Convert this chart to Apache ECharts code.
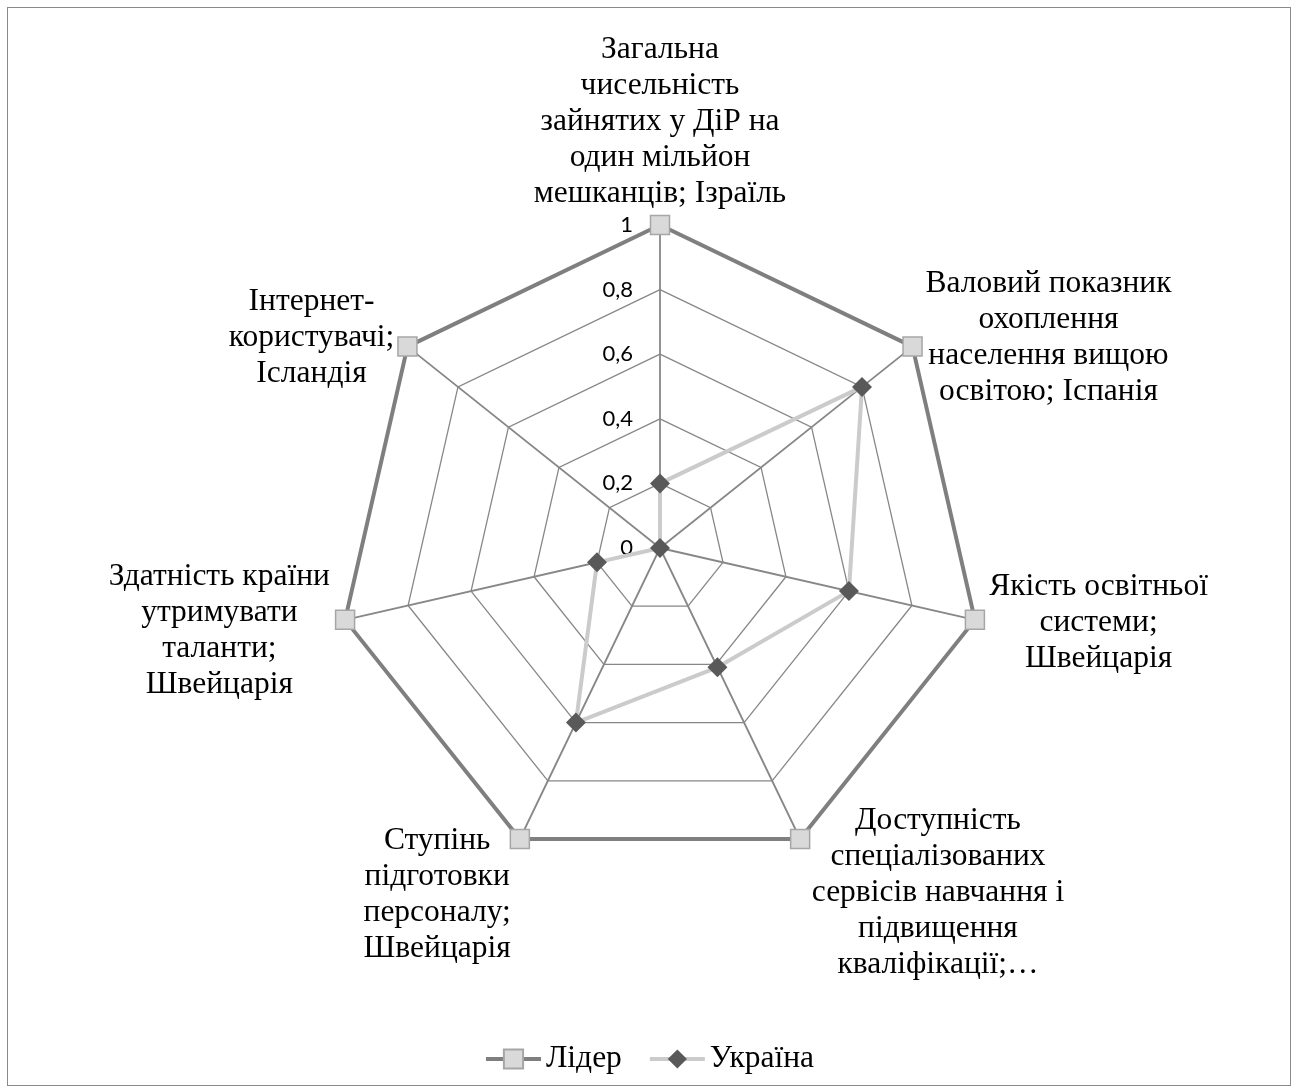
<!DOCTYPE html>
<html>
<head>
<meta charset="utf-8">
<script src="https://cdn.jsdelivr.net/npm/echarts@6/dist/echarts.min.js"></script>
<style>
  html, body { margin: 0; padding: 0; background: #fff; }
  #main { width: 1298px; height: 1092px; }
  #frame { position: absolute; left: 7px; top: 7px; width: 1282px; height: 1077px; border: 1.5px solid #8a8a8a; pointer-events: none; }
</style>
</head>
<body>
<div id="main"></div>
<div id="frame"></div>
<script>
// axis names, clockwise from the top (Excel-style wrapped text)
const axisNames = [
  "Загальна\nчисельність\nзайнятих у ДіР на\nодин мільйон\nмешканців; Ізраїль",
  "Валовий показник\nохоплення\nнаселення вищою\nосвітою; Іспанія",
  "Якість освітньої\nсистеми;\nШвейцарія",
  "Доступність\nспеціалізованих\nсервісів навчання і\nпідвищення\nкваліфікації;…",
  "Ступінь\nпідготовки\nперсоналу;\nШвейцарія",
  "Здатність країни\nутримувати\nталанти;\nШвейцарія",
  "Інтернет-\nкористувачі;\nІсландія"
];
const seriesNames = ["Лідер", "Україна"];
const leaderValues = [1, 1, 1, 1, 1, 1, 1];
const ukraineValues = [0.2, 0.8, 0.6, 0.41, 0.6, 0.2, 0];

// label layout tweaks (same order as axisNames)
const nameBoxWidths = [260, 250, 222, 260, 155, 232, 170];
const nameGaps = [13, 14, 13, 18, 12, 10, 14];
const nameTopPads = [0, 0, 0, 76, 90, 18, 0];

// echarts lays radar axes out counter-clockwise, so flip the order
const order = [0, 6, 5, 4, 3, 2, 1];

const serif = "'Liberation Serif', 'Times New Roman', serif";

var rich = {};
nameBoxWidths.forEach(function (w, i) {
  rich["n" + i] = { width: w, align: "center", fontFamily: serif, fontSize: 31.5, lineHeight: 36, color: "#000" };
});

var indicators = order.map(function (i) {
  var ind = { name: axisNames[i], min: 0, max: 1, nameGap: nameGaps[i] };
  if (nameTopPads[i]) ind.nameTextStyle = { padding: [nameTopPads[i], 0, 0, 0] };
  if (i === 0) ind.axisLabel = { show: true };
  return ind;
});

var myChart = echarts.init(document.getElementById("main"));

var option = {
  animation: false,
  backgroundColor: "#fff",
  grid: { show: false, left: 0, top: 0, width: 1, height: 1 },
  xAxis: { show: false, type: "category", data: [] },
  yAxis: { show: false, type: "value" },
  legend: {
    data: seriesNames,
    left: "center",
    top: 1038,
    itemWidth: 55,
    itemHeight: 24,
    itemGap: 26,
    lineStyle: { width: 4 },
    textStyle: { fontFamily: serif, fontSize: 31.5, color: "#000" }
  },
  radar: {
    center: [660, 548],
    radius: 323,
    startAngle: 90,
    shape: "polygon",
    splitNumber: 5,
    indicator: indicators,
    axisName: {
      color: "#000",
      fontFamily: serif,
      fontSize: 31.5,
      lineHeight: 36,
      rich: rich,
      formatter: function (name) {
        var i = axisNames.indexOf(name);
        return name.split("\n").map(function (s) { return "{n" + i + "|" + s + "}"; }).join("\n");
      }
    },
    axisNameGap: 14,
    axisLine: { lineStyle: { color: "#878787", width: 1.8 } },
    splitLine: { lineStyle: { color: "#878787", width: 1.3 } },
    splitArea: { show: false },
    axisTick: { show: false },
    axisLabel: {
      show: false,
      margin: 27,
      color: "#000",
      fontFamily: "Lato, 'Open Sans', sans-serif",
      fontSize: 22,
      formatter: function (v) { return String(v).replace(".", ","); }
    }
  },
  series: [
    // legend icons (line + marker)
    {
      name: seriesNames[0], type: "line", data: [], symbol: "rect",
      lineStyle: { color: "#7f7f7f", width: 4 },
      itemStyle: { color: "#d9d9d9", borderColor: "#a6a6a6", borderWidth: 1.5 }
    },
    {
      name: seriesNames[1], type: "line", data: [], symbol: "diamond",
      lineStyle: { color: "#cbcbcb", width: 4 },
      itemStyle: { color: "#595959", borderColor: "#595959", borderWidth: 0 }
    },
    {
      name: seriesNames[0],
      type: "radar",
      symbol: "rect",
      symbolSize: 19,
      lineStyle: { color: "#7f7f7f", width: 4 },
      itemStyle: { color: "#d9d9d9", borderColor: "#a6a6a6", borderWidth: 1.5 },
      data: [{ value: order.map(function (i) { return leaderValues[i]; }), name: seriesNames[0] }]
    },
    {
      name: seriesNames[1],
      type: "radar",
      symbol: "diamond",
      symbolSize: 20,
      lineStyle: { color: "#cbcbcb", width: 4 },
      itemStyle: { color: "#595959", borderWidth: 0 },
      data: [{ value: order.map(function (i) { return ukraineValues[i]; }), name: seriesNames[1] }]
    }
  ]
};

myChart.setOption(option);
</script>
</body>
</html>
